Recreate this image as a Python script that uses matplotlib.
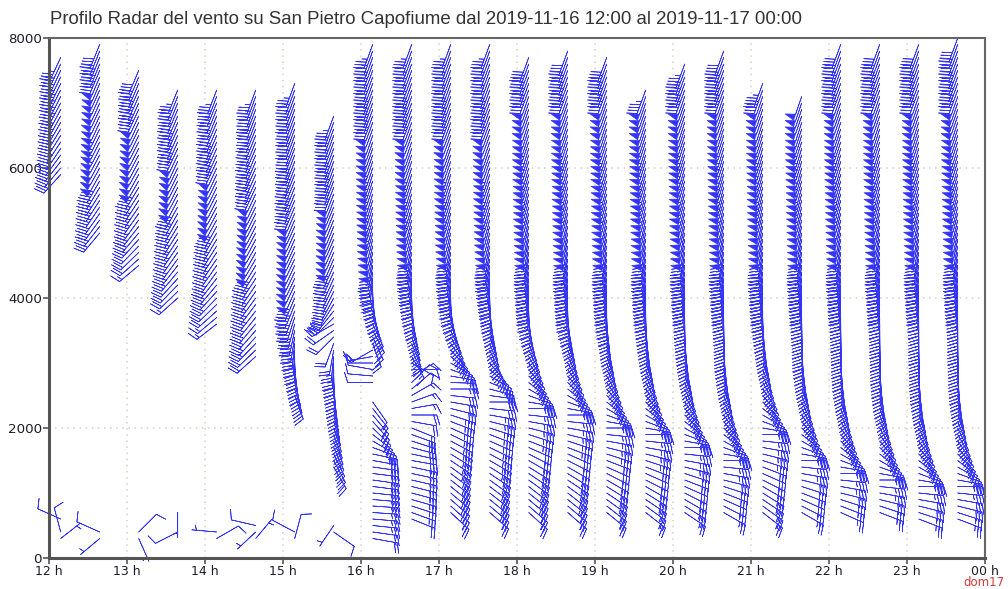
import numpy as np
import matplotlib
matplotlib.use("Agg")
import matplotlib.pyplot as plt

# radar wind profiler range gates (m)
gate_m = [100, 200, 300, 400, 500, 600, 700, 800, 900, 1000,
          1100, 1200, 1300, 1400, 1500, 1600, 1700, 1800, 1900, 2000,
          2100, 2200, 2300, 2400, 2500, 2600, 2700, 2800, 2900, 3000,
          3100, 3200, 3300, 3400, 3500, 3600, 3700, 3800, 3900, 4000,
          4100, 4200, 4300, 4400, 4500, 4600, 4700, 4800, 4900, 5000,
          5100, 5200, 5300, 5400, 5500, 5600, 5700, 5800, 5900, 6000,
          6100, 6200, 6300, 6400, 6500, 6600, 6700, 6800, 6900, 7000,
          7100, 7200, 7300, 7400, 7500, 7600, 7700, 7800, 7900, 8000]

profile_times = ["12:09", "12:39", "13:09", "13:39", "14:09", "14:39", "15:09", "15:39",
                 "16:09", "16:39", "17:09", "17:39", "18:09", "18:39", "19:09", "19:39",
                 "20:09", "20:39", "21:09", "21:39", "22:09", "22:39", "23:09", "23:39"]
profile_start_m = [5900, 5000, 4500, 4000, 3600, 3100, 2500, 1400,
                   300, 600, 700, 700, 700, 700, 700, 700,
                   700, 700, 700, 700, 700, 700, 600, 600]

# wind direction (deg, from) and speed (kt), one value per gate from the start gate
dir_1209 = [222, 220, 218, 216, 214, 213, 212, 211, 210, 209, 208, 208, 207, 207, 206, 206, 205, 205, 205]
spd_1209 = [25, 28, 30, 32, 35, 35, 38, 40, 40, 42, 42, 45, 45, 45, 45, 42, 40, 38, 35]

dir_1239 = [220, 218, 216, 215, 214, 213, 212, 211, 210, 209, 209, 208, 208, 207, 207, 206, 206, 205, 205, 205,
            204, 204, 204, 203, 203, 203, 202, 202, 202, 202]
spd_1239 = [25, 28, 30, 32, 35, 38, 40, 42, 45, 48, 50, 52, 52, 55, 55, 55, 55, 52, 52, 50,
            50, 50, 48, 48, 48, 45, 45, 45, 42, 40]

dir_1309 = [230, 228, 226, 224, 222, 220, 218, 216, 215, 214, 213, 212, 211, 210, 209, 209, 208, 208, 207, 207,
            206, 206, 205, 205, 205, 204, 204, 204, 203, 203, 203]
spd_1309 = [15, 18, 20, 22, 25, 28, 30, 32, 35, 38, 40, 42, 45, 48, 50, 52, 52, 52, 50, 50,
            50, 48, 48, 48, 46, 45, 45, 44, 42, 40, 38]

dir_1339 = [228, 226, 224, 222, 220, 218, 216, 215, 214, 213, 212, 211, 210, 209, 209, 208, 208, 207, 207, 206,
            206, 205, 205, 205, 204, 204, 204, 203, 203, 203, 202, 202, 202]
spd_1339 = [15, 18, 20, 22, 25, 27, 30, 32, 34, 36, 38, 40, 42, 44, 46, 48, 50, 50, 50, 50,
            48, 48, 48, 46, 46, 45, 45, 44, 42, 42, 40, 38, 36]

dir_1409 = [232, 230, 228, 226, 224, 222, 220, 218, 216, 215, 214, 213, 212, 211, 210, 209, 209, 208, 208, 207,
            207, 206, 206, 205, 205, 205, 204, 204, 204, 203, 203, 203, 202, 202, 202, 201, 201]
spd_1409 = [15, 17, 20, 22, 24, 26, 28, 30, 32, 34, 36, 38, 40, 42, 44, 46, 48, 50, 50, 50,
            50, 50, 48, 48, 48, 46, 46, 45, 45, 44, 42, 42, 40, 40, 38, 36, 35]

dir_1439 = [228, 226, 224, 222, 221, 220, 219, 218, 217, 216, 215, 214, 213, 212, 211, 210, 209, 209, 208, 208,
            207, 207, 206, 206, 205, 205, 205, 204, 204, 204, 203, 203, 203, 202, 202, 202, 201, 201, 201, 200,
            200, 200]
spd_1439 = [20, 22, 24, 26, 28, 30, 32, 34, 36, 38, 40, 42, 44, 46, 48, 50, 50, 50, 50, 50,
            50, 50, 48, 48, 48, 48, 46, 46, 45, 45, 44, 44, 42, 42, 40, 40, 40, 38, 38, 36,
            35, 35]

dir_1509 = [160, 163, 166, 170, 173, 176, 180, 183, 186, 189, 192, 195, 198, 200, 202, 203, 204, 205, 205, 205,
            205, 205, 205, 204, 204, 204, 204, 203, 203, 203, 203, 202, 202, 202, 202, 201, 201, 201, 201, 200,
            200, 200, 200, 200, 200, 200, 200, 200, 200]
spd_1509 = [25, 25, 28, 30, 30, 32, 32, 35, 35, 38, 38, 40, 40, 42, 44, 46, 48, 50, 50, 50,
            50, 50, 50, 50, 48, 48, 48, 48, 48, 46, 46, 46, 45, 45, 45, 44, 44, 42, 42, 42,
            40, 40, 40, 38, 38, 36, 36, 35, 35]

dir_1539 = [150, 152, 154, 156, 158, 160, 162, 164, 166, 168, 170, 172, 174, 176, 178, 180, 183, 186, 190, 200,
            225, 235, 240, 225, 218, 212, 208, 206, 205, 204, 204, 204, 203, 203, 203, 203, 202, 202, 202, 202,
            202, 201, 201, 201, 201, 200, 200, 200, 200, 200, 200, 200, 200, 200, 200]
spd_1539 = [20, 22, 22, 24, 24, 25, 25, 26, 26, 28, 28, 28, 30, 30, 30, 28, 26, 24, 22, 20,
            20, 22, 25, 28, 30, 32, 35, 38, 40, 42, 44, 46, 48, 50, 50, 50, 50, 50, 50, 48,
            48, 48, 48, 46, 46, 45, 45, 44, 44, 42, 42, 40, 40, 38, 36]

dir_1609 = [100, 98, 96, 95, 94, 94, 95, 96, 97, 98, 97, 98, 100, 102, 110, 120, 128, 134, 138, 140,
            142, 145, None, None, 270, 275, 280, 270, 260, 240, 160, 155, 152, 155, 160, 165, 170, 174, 178, 182,
            186, 188, 190, 191, 192, 193, 194, 195, 195, 196, 196, 197, 197, 197, 198, 198, 198, 198, 199, 199,
            199, 199, 199, 200, 200, 200, 200, 200, 200, 200, 200, 200, 200, 200, 200, 200, 200]
spd_1609 = [20, 22, 24, 25, 26, 27, 28, 28, 30, 30, 30, 30, 30, 30, 28, 26, 24, 22, 20, 18,
            15, 12, None, None, 10, 10, 10, 12, 15, 18, 20, 22, 25, 28, 30, 32, 34, 36, 38, 40,
            42, 44, 46, 48, 50, 52, 52, 54, 54, 55, 55, 55, 56, 56, 56, 55, 55, 54, 54, 52,
            52, 50, 50, 48, 48, 46, 46, 45, 44, 44, 42, 42, 40, 40, 38, 36, 35]

dir_1639 = [112, 110, 108, 106, 105, 104, 103, 102, 102, 100, 102, 105, 108, 110, 112, 100, 90, 80, 70, 60,
            50, 45, 60, 90, 120, 150, 155, 158, 160, 162, 165, 168, 172, 175, 178, 181, 183, 185, 187, 189,
            190, 191, 192, 193, 194, 195, 195, 196, 196, 197, 197, 197, 198, 198, 198, 199, 199, 199, 199, 200,
            200, 200, 200, 200, 200, 200, 200, 200, 200, 200, 200, 200, 200, 200]
spd_1639 = [22, 24, 25, 26, 27, 28, 28, 28, 28, 28, 27, 26, 25, 24, 22, 20, 18, 16, 15, 14,
            12, 10, 10, 10, 12, 15, 18, 20, 22, 24, 26, 28, 30, 32, 34, 36, 38, 40, 42, 45,
            46, 47, 48, 49, 50, 51, 52, 53, 54, 55, 55, 55, 54, 54, 53, 52, 52, 51, 50, 50,
            49, 48, 47, 46, 45, 44, 43, 42, 41, 40, 40, 38, 36, 35]

dir_1709 = [133, 132, 131, 130, 129, 128, 127, 126, 124, 122, 120, 118, 116, 114, 111, 108, 104, 100, 96, 90,
            92, 100, 110, 120, 130, 138, 145, 150, 155, 160, 165, 170, 175, 179, 182, 184, 186, 188, 189, 190,
            191, 192, 193, 194, 195, 195, 196, 196, 197, 197, 197, 198, 198, 198, 199, 199, 199, 199, 200, 200,
            200, 200, 200, 200, 200, 200, 200, 200, 200, 200, 200, 200, 200]
spd_1709 = [24, 26, 28, 30, 30, 32, 32, 33, 33, 34, 34, 35, 35, 35, 34, 33, 32, 30, 28, 25,
            22, 20, 20, 22, 24, 26, 28, 30, 32, 33, 34, 35, 36, 37, 38, 39, 40, 41, 45, 46,
            47, 48, 49, 50, 51, 52, 53, 54, 55, 55, 55, 54, 54, 53, 52, 52, 51, 50, 50, 49,
            48, 47, 46, 45, 44, 43, 42, 41, 40, 40, 38, 36, 35]

dir_1739 = [131, 130, 129, 128, 127, 126, 124, 122, 120, 118, 116, 114, 111, 108, 104, 100, 96, 90, 98, 105,
            112, 120, 130, 140, 148, 155, 158, 161, 164, 167, 170, 173, 176, 178, 181, 183, 185, 187, 189, 190,
            191, 192, 193, 194, 195, 195, 196, 196, 197, 197, 197, 198, 198, 198, 199, 199, 199, 199, 200, 200,
            200, 200, 200, 200, 200, 200, 200, 200, 200, 200, 200, 200, 200]
spd_1739 = [24, 26, 28, 30, 30, 32, 32, 33, 34, 34, 35, 35, 35, 35, 34, 33, 32, 30, 28, 26,
            25, 25, 26, 27, 28, 30, 32, 33, 34, 35, 36, 37, 38, 39, 40, 41, 42, 43, 45, 46,
            47, 48, 49, 50, 51, 52, 53, 54, 55, 55, 55, 54, 54, 53, 52, 52, 51, 50, 50, 49,
            48, 47, 46, 45, 44, 43, 42, 41, 40, 40, 38, 36, 35]

dir_1809 = [132, 131, 130, 129, 128, 126, 124, 122, 120, 117, 114, 111, 108, 104, 100, 96, 90,
            100, 110, 120, 128, 135, 140, 145, 150, 154, 158, 162, 166, 170, 174, 178,
            182, 184, 185, 186, 187, 188, 189, 190, 190, 191, 192, 192, 193, 193, 194, 194, 195, 195, 195, 196,
            196, 196, 197, 197, 197, 198, 198, 198, 198, 199, 199, 199, 199, 200, 200, 200, 200, 200, 200]
spd_1809 = [24, 26, 27, 28, 29, 30, 30, 31, 31, 32, 32, 33, 33, 34, 34, 35, 35,
            30, 26, 24, 24, 25, 26, 28, 30, 31, 32, 32, 33, 33, 34, 34,
            38, 40, 41, 42, 43, 44, 45, 46, 47, 48, 49, 50, 51, 52, 52, 53, 53, 54, 54, 55,
            55, 55, 55, 54, 54, 53, 52, 52, 51, 50, 50, 49, 48, 47, 46, 45, 44, 43, 42]

dir_1839 = [131, 130, 129, 128, 126, 124, 122, 120, 117, 114, 111, 108, 104, 100, 96, 90,
            100, 110, 120, 128, 135, 140, 145, 150, 154, 158, 161, 164, 167, 170, 174, 178,
            182, 184, 185, 186, 187, 188, 189, 190, 190, 191, 192, 192, 193, 193, 194, 194, 195, 195, 195, 196,
            196, 196, 197, 197, 197, 198, 198, 198, 198, 199, 199, 199, 199, 200, 200, 200, 200, 200, 200, 200]
spd_1839 = [24, 26, 27, 28, 29, 30, 30, 31, 31, 32, 33, 33, 34, 34, 35, 36,
            30, 26, 24, 24, 25, 26, 28, 30, 31, 32, 32, 33, 33, 34, 34, 34,
            38, 40, 41, 42, 43, 44, 45, 46, 47, 48, 49, 50, 51, 52, 52, 53, 53, 54, 54, 55,
            55, 55, 55, 54, 54, 53, 52, 52, 51, 50, 50, 49, 48, 47, 46, 45, 44, 43, 42, 41]

dir_1909 = [129, 128, 126, 124, 122, 120, 117, 114, 111, 108, 104, 100, 96, 90,
            100, 110, 120, 128, 135, 140, 145, 150, 154, 158, 161, 164, 167, 170, 172, 174, 177, 180,
            182, 184, 185, 186, 187, 188, 189, 190, 190, 191, 192, 192, 193, 193, 194, 194, 195, 195, 195, 196,
            196, 196, 197, 197, 197, 198, 198, 198, 198, 199, 199, 199, 199, 200, 200, 200, 200, 200, 200]
spd_1909 = [24, 26, 27, 28, 29, 30, 30, 31, 32, 33, 33, 34, 35, 36,
            30, 26, 24, 24, 25, 26, 28, 30, 31, 32, 32, 33, 33, 34, 34, 34, 34, 34,
            38, 40, 41, 42, 43, 44, 45, 46, 47, 48, 49, 50, 51, 52, 52, 53, 53, 54, 54, 55,
            55, 55, 55, 54, 54, 53, 52, 52, 51, 50, 50, 49, 48, 47, 46, 45, 44, 43, 42]

dir_1939 = [128, 126, 124, 122, 120, 117, 114, 111, 108, 104, 100, 96, 90,
            100, 110, 120, 128, 135, 140, 145, 150, 154, 158, 161, 164, 167, 170, 172, 174, 176, 178, 180,
            182, 184, 185, 186, 187, 188, 189, 190, 190, 191, 192, 192, 193, 193, 194, 194, 195, 195, 195, 196,
            196, 196, 197, 197, 197, 198, 198, 198, 198, 199, 199, 199, 199, 200]
spd_1939 = [24, 26, 27, 28, 29, 30, 31, 32, 33, 34, 34, 35, 36,
            30, 26, 24, 24, 25, 26, 28, 30, 31, 32, 32, 33, 33, 34, 34, 34, 34, 34, 34,
            38, 40, 41, 42, 43, 44, 45, 46, 47, 48, 49, 50, 51, 52, 52, 53, 53, 54, 54, 55,
            55, 55, 55, 54, 54, 53, 52, 52, 51, 50, 50, 49, 48, 47]

dir_2009 = [124, 122, 120, 117, 114, 111, 108, 104, 100, 96, 90,
            100, 110, 120, 128, 135, 140, 145, 150, 154, 158, 161, 164, 167, 170, 172, 174, 176, 178, 179, 180, 181,
            182, 184, 185, 186, 187, 188, 189, 190, 190, 191, 192, 192, 193, 193, 194, 194, 195, 195, 195, 196,
            196, 196, 197, 197, 197, 198, 198, 198, 198, 199, 199, 199, 199, 200, 200, 200, 200, 200]
spd_2009 = [24, 26, 28, 29, 30, 31, 32, 33, 34, 35, 36,
            30, 26, 24, 24, 25, 26, 28, 30, 31, 32, 32, 33, 33, 34, 34, 34, 34, 34, 34, 34, 34,
            38, 40, 41, 42, 43, 44, 45, 46, 47, 48, 49, 50, 51, 52, 52, 53, 53, 54, 54, 55,
            55, 55, 55, 54, 54, 53, 52, 52, 51, 50, 50, 49, 48, 47, 46, 45, 44, 43]

dir_2039 = [120, 117, 114, 111, 108, 104, 100, 96, 90,
            100, 110, 120, 128, 135, 140, 145, 150, 154, 158, 161, 164, 167, 170, 172, 174, 176, 178, 178, 179, 179,
            180, 181,
            182, 184, 185, 186, 187, 188, 189, 190, 190, 191, 192, 192, 193, 193, 194, 194, 195, 195, 195, 196,
            196, 196, 197, 197, 197, 198, 198, 198, 198, 199, 199, 199, 199, 200, 200, 200, 200, 200, 200, 200]
spd_2039 = [24, 26, 28, 30, 31, 32, 34, 35, 36,
            30, 26, 24, 24, 25, 26, 28, 30, 31, 32, 32, 33, 33, 34, 34, 34, 34, 34, 34, 34, 34,
            34, 34,
            38, 40, 41, 42, 43, 44, 45, 46, 47, 48, 49, 50, 51, 52, 52, 53, 53, 54, 54, 55,
            55, 55, 55, 54, 54, 53, 52, 52, 51, 50, 50, 49, 48, 47, 46, 45, 44, 43, 42, 41]

dir_2109 = [128, 126, 124, 122, 120, 117, 114, 111, 108, 104, 100, 96, 90,
            100, 110, 120, 128, 135, 140, 145, 150, 154, 158, 161, 164, 167, 170, 172, 174, 176, 178, 180,
            182, 184, 185, 186, 187, 188, 189, 190, 190, 191, 192, 192, 193, 193, 194, 194, 195, 195, 195, 196,
            196, 196, 197, 197, 197, 198, 198, 198, 198, 199, 199, 199, 199, 200, 200]
spd_2109 = [24, 26, 27, 28, 29, 30, 31, 32, 33, 34, 34, 35, 36,
            30, 26, 24, 24, 25, 26, 28, 30, 31, 32, 32, 33, 33, 34, 34, 34, 34, 34, 34,
            38, 40, 41, 42, 43, 44, 45, 46, 47, 48, 49, 50, 51, 52, 52, 53, 53, 54, 54, 55,
            55, 55, 55, 54, 54, 53, 52, 52, 51, 50, 50, 49, 48, 47, 46]

dir_2139 = [120, 117, 114, 111, 108, 104, 100, 96, 90,
            100, 110, 120, 128, 135, 140, 145, 150, 154, 158, 161, 164, 167, 170, 172, 174, 176, 178, 178, 179, 179,
            180, 181,
            182, 184, 185, 186, 187, 188, 189, 190, 190, 191, 192, 192, 193, 193, 194, 194, 195, 195, 195, 196,
            196, 196, 197, 197, 197, 198, 198, 198, 198, 199, 199, 199, 199]
spd_2139 = [24, 26, 28, 30, 31, 32, 34, 35, 36,
            30, 26, 24, 24, 25, 26, 28, 30, 31, 32, 32, 33, 33, 34, 34, 34, 34, 34, 34, 34, 34,
            34, 34,
            38, 40, 41, 42, 43, 44, 45, 46, 47, 48, 49, 50, 51, 52, 52, 53, 53, 54, 54, 55,
            55, 55, 55, 54, 54, 53, 52, 52, 51, 50, 50, 49, 48]

dir_2209 = [114, 111, 108, 104, 100, 96, 90,
            100, 110, 120, 128, 135, 140, 145, 150, 154, 158, 161, 164, 167, 170, 172, 174, 176, 177, 178, 178,
            179, 179, 180, 180, 181,
            182, 184, 185, 186, 187, 188, 189, 190, 190, 191, 192, 192, 193, 193, 194, 194, 195, 195, 195, 196,
            196, 196, 197, 197, 197, 198, 198, 198, 198, 199, 199, 199, 199, 200, 200, 200, 200, 200, 200, 200,
            200]
spd_2209 = [25, 27, 29, 31, 33, 35, 36,
            30, 26, 24, 24, 25, 26, 28, 30, 31, 32, 32, 33, 33, 34, 34, 34, 34, 34, 34, 34,
            34, 34, 34, 34, 34,
            38, 40, 41, 42, 43, 44, 45, 46, 47, 48, 49, 50, 51, 52, 52, 53, 53, 54, 54, 55,
            55, 55, 55, 54, 54, 53, 52, 52, 51, 50, 50, 49, 48, 47, 46, 45, 44, 43, 42, 41,
            40]

dir_2239 = [111, 108, 104, 100, 96, 90,
            100, 110, 120, 128, 135, 140, 145, 150, 154, 158, 161, 164, 167, 170, 172, 174, 176, 177, 178, 178,
            179, 179, 180, 180, 180, 181,
            182, 184, 185, 186, 187, 188, 189, 190, 190, 191, 192, 192, 193, 193, 194, 194, 195, 195, 195, 196,
            196, 196, 197, 197, 197, 198, 198, 198, 198, 199, 199, 199, 199, 200, 200, 200, 200, 200, 200, 200,
            200]
spd_2239 = [26, 28, 31, 33, 35, 36,
            30, 26, 24, 24, 25, 26, 28, 30, 31, 32, 32, 33, 33, 34, 34, 34, 34, 34, 34, 34,
            34, 34, 34, 34, 34, 34,
            38, 40, 41, 42, 43, 44, 45, 46, 47, 48, 49, 50, 51, 52, 52, 53, 53, 54, 54, 55,
            55, 55, 55, 54, 54, 53, 52, 52, 51, 50, 50, 49, 48, 47, 46, 45, 44, 43, 42, 41,
            40]

dir_2309 = [111, 108, 104, 100, 96, 90,
            100, 110, 120, 128, 135, 140, 145, 150, 154, 158, 161, 164, 167, 170, 172, 174, 176, 177, 178, 178,
            179, 179, 180, 180, 180, 180, 181,
            182, 184, 185, 186, 187, 188, 189, 190, 190, 191, 192, 192, 193, 193, 194, 194, 195, 195, 195, 196,
            196, 196, 197, 197, 197, 198, 198, 198, 198, 199, 199, 199, 199, 200, 200, 200, 200, 200, 200, 200,
            200]
spd_2309 = [23, 26, 29, 32, 35, 36,
            30, 26, 24, 24, 25, 26, 28, 30, 31, 32, 32, 33, 33, 34, 34, 34, 34, 34, 34, 34,
            34, 34, 34, 34, 34, 34, 34,
            38, 40, 41, 42, 43, 44, 45, 46, 47, 48, 49, 50, 51, 52, 52, 53, 53, 54, 54, 55,
            55, 55, 55, 54, 54, 53, 52, 52, 51, 50, 50, 49, 48, 47, 46, 45, 44, 43, 42, 41,
            40]

dir_2339 = [111, 108, 104, 100, 96, 90,
            100, 110, 120, 128, 135, 140, 145, 150, 154, 158, 161, 164, 167, 170, 172, 174, 176, 177, 178, 178,
            179, 179, 180, 180, 180, 180, 181,
            182, 184, 185, 186, 187, 188, 189, 190, 190, 191, 192, 192, 193, 193, 194, 194, 195, 195, 195, 196,
            196, 196, 197, 197, 197, 198, 198, 198, 198, 199, 199, 199, 199, 200, 200, 200, 200, 200, 200, 200,
            200, 200]
spd_2339 = [23, 26, 29, 32, 35, 36,
            30, 26, 24, 24, 25, 26, 28, 30, 31, 32, 32, 33, 33, 34, 34, 34, 34, 34, 34, 34,
            34, 34, 34, 34, 34, 34, 34,
            38, 40, 41, 42, 43, 44, 45, 46, 47, 48, 49, 50, 51, 52, 52, 53, 53, 54, 54, 55,
            55, 55, 55, 54, 54, 53, 52, 52, 51, 50, 50, 49, 48, 47, 46, 45, 44, 43, 42, 41,
            40, 40]

profile_dirs = [dir_1209, dir_1239, dir_1309, dir_1339, dir_1409, dir_1439, dir_1509, dir_1539,
                dir_1609, dir_1639, dir_1709, dir_1739, dir_1809, dir_1839, dir_1909, dir_1939,
                dir_2009, dir_2039, dir_2109, dir_2139, dir_2209, dir_2239, dir_2309, dir_2339]
profile_spds = [spd_1209, spd_1239, spd_1309, spd_1339, spd_1409, spd_1439, spd_1509, spd_1539,
                spd_1609, spd_1639, spd_1709, spd_1739, spd_1809, spd_1839, spd_1909, spd_1939,
                spd_2009, spd_2039, spd_2109, spd_2139, spd_2209, spd_2239, spd_2309, spd_2339]

# scattered low level echoes in the first hours
low_times = ["12:09", "12:09", "12:09", "12:39", "12:39", "13:09", "13:09", "13:39", "13:39",
             "14:09", "14:09", "14:39", "14:39", "14:39", "15:09", "15:09", "15:39", "15:39"]
low_heights = [300, 400, 600, 300, 400, 300, 400, 400, 700,
               300, 400, 300, 400, 500, 300, 400, 400, 500]
low_dirs = [52, 345, 294, 230, 294, 156, 45, 243, 180,
            60, 275, 40, 227, 283, 15, 298, 125, 214]
low_spds = [5, 10, 10, 5, 10, 5, 10, 10, 5,
            10, 5, 5, 5, 10, 10, 10, 10, 5]

title = "Profilo Radar del vento su San Pietro Capofiume dal 2019-11-16 12:00 al 2019-11-17 00:00"
hour_labels = ["12 h", "13 h", "14 h", "15 h", "16 h", "17 h", "18 h",
               "19 h", "20 h", "21 h", "22 h", "23 h", "00 h"]


def to_hours(t):
    hh, mm = t.split(":")
    return int(hh) + int(mm) / 60.0


xs, ys, ds, ss = [], [], [], []
for t, start, dirs, spds in zip(profile_times, profile_start_m, profile_dirs, profile_spds):
    if len(dirs) != len(spds):
        raise ValueError("length mismatch at " + t)
    i0 = gate_m.index(start)
    for k in range(len(dirs)):
        if dirs[k] is None:
            continue
        xs.append(to_hours(t))
        ys.append(gate_m[i0 + k])
        ds.append(dirs[k])
        ss.append(spds[k])

for t, h, d, s in zip(low_times, low_heights, low_dirs, low_spds):
    xs.append(to_hours(t))
    ys.append(h)
    ds.append(d)
    ss.append(s)

rad = np.deg2rad(np.array(ds, dtype=float))
spd = np.array(ss, dtype=float)
u = -spd * np.sin(rad)
v = -spd * np.cos(rad)

fig = plt.figure(figsize=(10.08, 5.89), dpi=100)
ax = fig.add_axes([49 / 1008, 31 / 589, 936 / 1008, 520 / 589])

ax.barbs(xs, ys, u, v, length=6.0, pivot='tip', color='#3434f6',
         linewidth=0.5, clip_on=False)

ax.set_xlim(12, 24)
ax.set_ylim(0, 8000)
ax.set_xticks(range(12, 25))
ax.set_xticklabels(hour_labels)
ax.set_yticks([0, 2000, 4000, 6000, 8000])
ax.tick_params(axis='both', colors='#555555', labelcolor='#1c1c2c',
               length=4, width=1.2, pad=1)
ax.tick_params(axis='x', labelsize=9)
ax.tick_params(axis='y', labelsize=9.6)
ax.grid(True, linestyle=(0, (1, 3)), color='#d6d1c2', linewidth=1.1)
ax.set_axisbelow(True)
for side in ['left', 'bottom']:
    ax.spines[side].set_linewidth(2.2)
    ax.spines[side].set_color('#555555')
for side in ['top', 'right']:
    ax.spines[side].set_linewidth(1.5)
    ax.spines[side].set_color('#666666')

fig.text(50 / 1008, 1 - 20 / 589, title, fontsize=13.4, family='Liberation Sans',
         color='#333333', va='center', ha='left')
fig.text(1005 / 1008, 1 - 583 / 589, 'dom17', fontsize=8.5, color='#d03a3a',
         ha='right', va='center')

fig.savefig('out.png', dpi=100)
